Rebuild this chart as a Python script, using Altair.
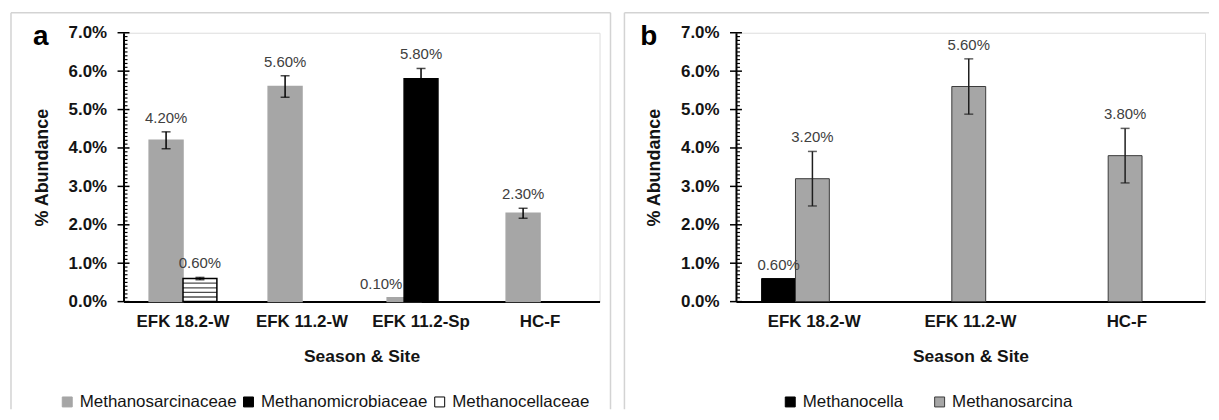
import altair as alt
import pandas as pd

FONT = "Liberation Sans"
TXT = "#141414"

# ---------------- data: panel a ----------------
a_sites = ["EFK 18.2-W", "EFK 11.2-W", "EFK 11.2-Sp", "HC-F"]
a_families = ["Methanosarcinaceae", "Methanomicrobiaceae", "Methanocellaceae"]
a_site = ["EFK 18.2-W", "EFK 18.2-W", "EFK 11.2-W", "EFK 11.2-Sp", "EFK 11.2-Sp", "HC-F"]
a_family = ["Methanosarcinaceae", "Methanocellaceae", "Methanosarcinaceae",
            "Methanosarcinaceae", "Methanomicrobiaceae", "Methanosarcinaceae"]
a_value = [0.042, 0.006, 0.056, 0.001, 0.058, 0.023]
a_err = [0.0022, 0.0003, 0.0028, 0.0, 0.0027, 0.0013]

# ---------------- data: panel b ----------------
b_sites = ["EFK 18.2-W", "EFK 11.2-W", "HC-F"]
b_genera = ["Methanocella", "Methanosarcina"]
b_site = ["EFK 18.2-W", "EFK 18.2-W", "EFK 11.2-W", "HC-F"]
b_genus = ["Methanocella", "Methanosarcina", "Methanosarcina", "Methanosarcina"]
b_value = [0.006, 0.032, 0.056, 0.038]
b_err = [0.0, 0.0071, 0.0072, 0.0071]

# axis tick values
y_major = [0.0, 0.01, 0.02, 0.03, 0.04, 0.05, 0.06, 0.07]
y_minor = [i / 1000 for i in range(71) if i % 10 != 0]

a_df = pd.DataFrame({"site": a_site, "series": a_family, "value": a_value, "err": a_err})
b_df = pd.DataFrame({"site": b_site, "series": b_genus, "value": b_value, "err": b_err})

# stripes of the hatched (Methanocellaceae) bar
cell = a_df[a_df["series"] == "Methanocellaceae"].iloc[0]
stripe_df = pd.DataFrame({
    "site": [cell["site"]] * 4,
    "series": [cell["series"]] * 4,
    "value": [cell["value"] * k / 5 for k in range(1, 5)],
})


def build_panel(df, sites, series_domain, left_series, center_series, width, height,
                colors, strokes, bar_sw, off_pad, bar_w, letter, letter_x, fx, fx2,
                right_edge, legend_x, legend_pad, err_color, stripes=None):
    yscale = alt.Scale(domain=[0, 0.07], nice=False, zero=True)
    yaxis = alt.Axis(values=y_major, format=".1%", ticks=False, grid=False,
                     domainColor="black", domainWidth=2, labelFontSize=17,
                     labelFontWeight="bold", labelColor=TXT, labelPadding=17,
                     title="% Abundance", titleFontSize=18, titleFontWeight="bold",
                     titleColor=TXT, titlePadding=17)
    xaxis = alt.Axis(title="Season & Site", labelAngle=0, ticks=False,
                     domainColor="black", domainWidth=2, labelFontSize=17,
                     labelFontWeight="bold", labelColor=TXT, labelPadding=12,
                     titleFontSize=17.5, titleFontWeight="bold", titleColor=TXT,
                     titlePadding=18, labelLimit=300)
    xscale = alt.Scale(domain=sites, paddingInner=0, paddingOuter=0)
    oscale = alt.Scale(domain=["L", "R"], paddingInner=0, paddingOuter=off_pad)

    def X():
        return alt.X("site:N", scale=xscale, axis=xaxis, sort=sites)

    def Y(f):
        return alt.Y(f, scale=yscale, axis=yaxis)

    def XO():
        return alt.XOffset("slot:N", scale=oscale)

    slot_expr = f"datum.series == '{left_series}' ? 'L' : 'R'"
    base = alt.Chart(df).transform_calculate(
        slot=slot_expr,
        lo="datum.value - datum.err",
        hi="datum.value + datum.err",
    )
    # bars placed in a left/right slot, and (panel a) one series centred in its category
    slot_base = base.transform_filter(f"datum.series != '{center_series}'")
    center_base = base.transform_filter(f"datum.series == '{center_series}'")
    groups = [(slot_base, True)]
    if center_series is not None:
        groups.append((center_base, False))

    def enc(use_off, **kw):
        if use_off:
            kw["xOffset"] = XO()
        return dict(x=X(), **kw)

    one = alt.Chart(pd.DataFrame({"k": [0]}))
    fcol = "#d3d3d3"
    layers = [
        one.mark_rule(color=fcol, strokeWidth=1.5).encode(
            x=alt.value(fx), y=alt.value(-20), y2=alt.value(378)),
        one.mark_rule(color=fcol, strokeWidth=1.5).encode(
            x=alt.value(fx), x2=alt.value(fx2), y=alt.value(-20)),
    ]
    if right_edge:
        layers.append(one.mark_rule(color=fcol, strokeWidth=1.5).encode(
            x=alt.value(fx2), y=alt.value(-20), y2=alt.value(378)))
    layers.append(one.mark_text(text=letter, fontSize=28, fontWeight="bold",
                                align="left", baseline="alphabetic", color="black")
                  .encode(x=alt.value(letter_x), y=alt.value(12)))

    # y-axis tick marks (major crossing, minor inside)
    layers.append(alt.Chart(pd.DataFrame({"t": y_major})).mark_rule(
        color="black", strokeWidth=1.5).encode(
        y=Y("t:Q"), x=alt.value(-6), x2=alt.value(6)))
    layers.append(alt.Chart(pd.DataFrame({"t": y_minor})).mark_rule(
        color="black", strokeWidth=1.2).encode(
        y=Y("t:Q"), x=alt.value(0), x2=alt.value(4)))

    legend = alt.Legend(orient="none", legendX=legend_x, legendY=362,
                        direction="horizontal", title=None, symbolType="square",
                        symbolSize=100, symbolStrokeWidth=1, labelFontSize=17,
                        labelColor=TXT, labelOffset=4, columnPadding=legend_pad,
                        labelLimit=300)
    color = alt.Color("series:N", scale=alt.Scale(domain=series_domain, range=colors),
                      legend=legend)
    stroke = alt.Stroke("series:N", scale=alt.Scale(domain=series_domain, range=strokes),
                        legend=legend)

    for g, use_off in groups:
        mk = g.mark_bar(strokeWidth=bar_sw) if use_off else \
            g.mark_bar(strokeWidth=bar_sw, width=bar_w)
        layers.append(mk.encode(**enc(use_off, y=Y("value:Q"), color=color, stroke=stroke)))

    if stripes is not None:
        layers.append(alt.Chart(stripes).transform_calculate(slot=slot_expr)
                      .mark_tick(color="black", size=bar_w, thickness=1.3)
                      .encode(**enc(True, y=Y("value:Q"))))

    for g, use_off in groups:
        errs = g.transform_filter("datum.err > 0")
        layers.append(errs.mark_rule(color=err_color, strokeWidth=1.5).encode(
            **enc(use_off, y=Y("lo:Q"), y2="hi:Q")))
        layers.append(errs.mark_tick(color=err_color, size=9, thickness=1.5).encode(
            **enc(use_off, y=Y("lo:Q"))))
        layers.append(errs.mark_tick(color=err_color, size=9, thickness=1.5).encode(
            **enc(use_off, y=Y("hi:Q"))))

    for g, use_off in groups:
        lab = g.transform_calculate(top="datum.value + datum.err")
        txt = alt.Text("value:Q", format=".2%")
        layers.append(lab.transform_filter("datum.value >= 0.002").mark_text(
            baseline="bottom", dy=-6, fontSize=15, color="#404040").encode(
            **enc(use_off, y=Y("top:Q"), text=txt)))
        layers.append(lab.transform_filter("datum.value < 0.002").mark_text(
            baseline="bottom", dy=-6, dx=-23, fontSize=15, color="#404040").encode(
            **enc(use_off, y=Y("top:Q"), text=txt)))

    return alt.layer(*layers).properties(width=width, height=height)


panel_a = build_panel(
    a_df, a_sites, a_families, "Methanosarcinaceae", "Methanomicrobiaceae", 478, 270,
    ["#a6a6a6", "#000000", "#ffffff"], ["#a6a6a6", "#000000", "#000000"],
    1.5, 0.757, 34, "a", -91, -113, 489, True, -65, 3, "black",
    stripes=stripe_df)

panel_b = build_panel(
    b_df, b_sites, b_genera, "Methanocella", None, 471, 270,
    ["#000000", "#a6a6a6"], ["#000000", "#3a3a3a"],
    1, 1.0, 38, "b", -96, -112, 475, False, 46, 27, "#1e1e1e")

chart = alt.hconcat(panel_a, panel_b, spacing=10).resolve_scale(
    color="independent", stroke="independent", x="independent", y="independent"
).resolve_legend(color="independent", stroke="independent").properties(
    padding={"left": 1, "top": 2, "right": 0, "bottom": 0}
).configure_view(stroke=None).configure(font=FONT)

chart.save("out.html", embed_options={"renderer": "svg", "actions": False})
